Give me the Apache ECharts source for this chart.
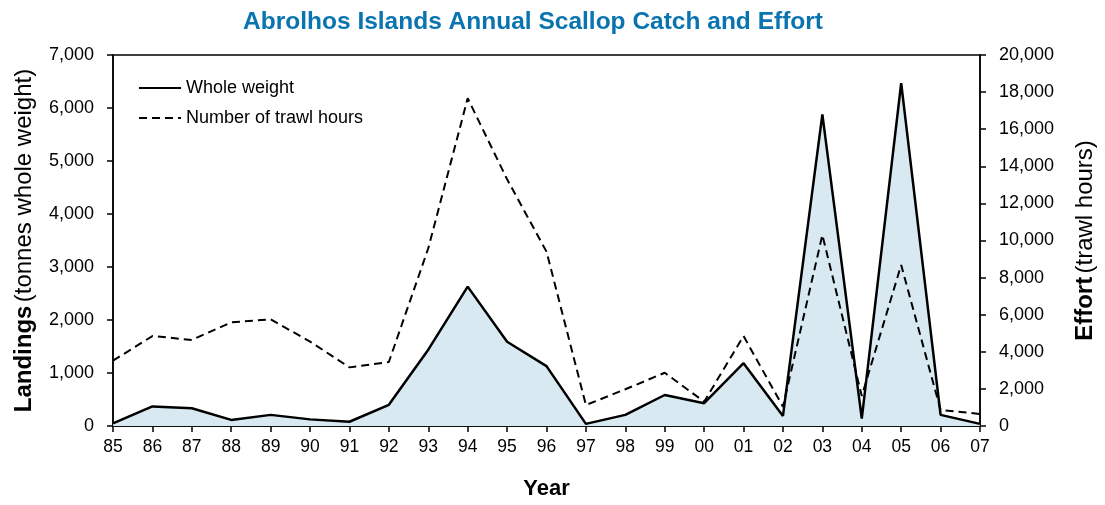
<!DOCTYPE html>
<html><head><meta charset="utf-8">
<script src="https://cdn.jsdelivr.net/npm/echarts@6/dist/echarts.min.js"></script>
<style>html,body{margin:0;padding:0;background:#fff}#c{width:1105px;height:505px}</style>
</head><body><div id="c"></div>
<script>
const years = ['85','86','87','88','89','90','91','92','93','94','95','96','97','98','99','00','01','02','03','04','05','06','07'];
const wholeWeight = [50,370,335,115,210,125,80,400,1440,2630,1590,1130,40,210,585,430,1185,190,5880,140,6470,210,40];
const trawlHours = [3520,4850,4640,5590,5750,4550,3160,3450,9580,17670,13300,9400,1130,1980,2870,1310,4850,1040,10300,1620,8680,860,650];
const leftTicks = {min:0,max:7000,interval:1000};
const rightTicks = {min:0,max:20000,interval:2000};

const chart = echarts.init(document.getElementById('c'));
const fmt = v => v.toLocaleString('en-US');
const F = 'Liberation Sans, Arial, sans-serif';
chart.setOption({
  animation:false,
  title:{text:'Abrolhos Islands Annual Scallop Catch and Effort',left:528,top:5,textAlign:'center',
    textStyle:{fontFamily:F,fontWeight:'bold',fontSize:24.5,color:'#0a74b0'}},
  grid:{left:113,right:125,top:55,bottom:79,show:true,borderColor:'#000',borderWidth:1.5,backgroundColor:'transparent'},
  legend:{left:138,top:78,padding:0,orient:'vertical',itemWidth:42,itemHeight:14,itemGap:10,
    itemStyle:{opacity:0},
    textStyle:{fontFamily:F,fontSize:18,lineHeight:20,color:'#000'},
    data:['Whole weight','Number of trawl hours']},
  xAxis:{type:'category',data:years,boundaryGap:false,
    name:'Year',nameLocation:'middle',nameGap:52,
    nameTextStyle:{fontFamily:F,fontWeight:'bold',fontSize:22,color:'#000'},
    axisLine:{lineStyle:{color:'#000',width:1.5}},
    axisTick:{inside:false,length:6,lineStyle:{color:'#000',width:1.5},interval:0},
    axisLabel:{interval:0,margin:12,fontFamily:F,fontSize:17.5,color:'#000'},
    splitLine:{show:false}},
  yAxis:[
    {type:'value',min:leftTicks.min,max:leftTicks.max,interval:leftTicks.interval,position:'left',
      name:'{b|Landings} {n|(tonnes whole weight)}',nameLocation:'middle',nameGap:77,
      nameTextStyle:{rich:{b:{fontFamily:F,fontWeight:'bold',fontSize:24,color:'#000'},
                            n:{fontFamily:F,fontSize:24,color:'#000'}}},
      axisLine:{show:true,lineStyle:{color:'#000',width:1.5}},
      axisTick:{show:true,length:6,lineStyle:{color:'#000',width:1.5}},
      axisLabel:{margin:19,formatter:fmt,fontFamily:F,fontSize:18,color:'#000'},
      splitLine:{show:false}},
    {type:'value',min:rightTicks.min,max:rightTicks.max,interval:rightTicks.interval,position:'right',
      name:'{b|Effort} {n|(trawl hours)}',nameLocation:'middle',nameGap:93,nameRotate:90,
      nameTextStyle:{rich:{b:{fontFamily:F,fontWeight:'bold',fontSize:24,color:'#000'},
                            n:{fontFamily:F,fontSize:24,color:'#000'}}},
      axisLine:{show:true,lineStyle:{color:'#000',width:1.5}},
      axisTick:{show:true,length:6,lineStyle:{color:'#000',width:1.5}},
      axisLabel:{margin:19,formatter:fmt,fontFamily:F,fontSize:18,color:'#000'},
      splitLine:{show:false}}
  ],
  series:[
    {name:'Whole weight',type:'line',yAxisIndex:0,data:wholeWeight,symbol:'none',
      lineStyle:{color:'#000',width:2.5},itemStyle:{color:'#000'},
      areaStyle:{color:'#d9e9f2',opacity:1},z:2},
    {name:'Number of trawl hours',type:'line',yAxisIndex:1,data:trawlHours,symbol:'none',
      lineStyle:{color:'#000',width:2,type:[8,5]},itemStyle:{color:'#000'},z:3}
  ]
});
</script></body></html>
